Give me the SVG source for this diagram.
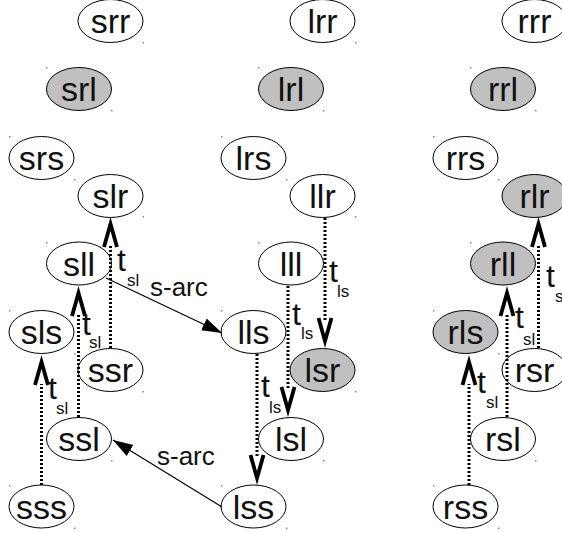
<svg xmlns="http://www.w3.org/2000/svg" xmlns:xlink="http://www.w3.org/1999/xlink" width="562" height="533" viewBox="0 0 562 533">
  <style>
    .node ellipse { fill: #ffffff; stroke: #000000; stroke-width: 1; }
    .node.shaded ellipse { fill: #c0c0c0; }
    .node text { font-family: "Liberation Sans", Arial, sans-serif; font-size: 34px; text-anchor: middle; fill: #111111; }
    .corner { fill: #8a8a8a; }
    .dotted { stroke: #000000; stroke-width: 3; stroke-dasharray: 2 2; fill: none; }
    .head { stroke: #000000; stroke-width: 3.8; fill: none; stroke-linejoin: miter; stroke-miterlimit: 10; }
    .arc { stroke: #000000; stroke-width: 1.2; fill: none; marker-end: url(#tri); }
    .lbl { font-family: "Liberation Sans", Arial, sans-serif; fill: #111111; }
    .t { font-size: 32px; }
    .sub { font-size: 17px; }
    .arclbl { font-size: 26px; }
  </style>
  <defs>
    <marker id="tri" markerUnits="userSpaceOnUse" markerWidth="22" markerHeight="14" refX="20" refY="6.5" orient="auto">
      <path d="M0,0 L20,6.5 L0,13 Z" fill="#000000"/>
    </marker>
    <!-- open chevron heads; the miter tip sits about 7px beyond the path vertex -->
    <path id="up" d="M-6.5,23 L0,0 L6.5,23"/>
    <path id="down" d="M-6.5,-23 L0,0 L6.5,-23"/>
  </defs>

  <!-- states: first letter = column, second letter = row block, third letter = offset -->
  <g id="nodes">
    <g id="srr" class="node"><ellipse cx="110.5" cy="21" rx="32.5" ry="21.5"/><text x="110.5" y="33">srr</text><rect class="corner" x="142.5" y="42" width="1.5" height="1.5"/></g>
    <g id="srl" class="node shaded"><ellipse cx="79" cy="89" rx="32.5" ry="21.5"/><text x="79" y="101">srl</text><rect class="corner" x="46" y="67" width="1.5" height="1.5"/><rect class="corner" x="111" y="110" width="1.5" height="1.5"/></g>
    <g id="srs" class="node"><ellipse cx="41.5" cy="158" rx="32.5" ry="21.5"/><text x="41.5" y="170">srs</text><rect class="corner" x="9" y="136" width="1.5" height="1.5"/><rect class="corner" x="74" y="179" width="1.5" height="1.5"/></g>
    <g id="slr" class="node"><ellipse cx="110.5" cy="196" rx="32.5" ry="21.5"/><text x="110.5" y="208">slr</text><rect class="corner" x="142.5" y="216" width="1.5" height="1.5"/></g>
    <g id="sll" class="node"><ellipse cx="79" cy="263.5" rx="32.5" ry="21.5"/><text x="79" y="275.5">sll</text><rect class="corner" x="46" y="242" width="1.5" height="1.5"/><rect class="corner" x="111" y="284.5" width="1.5" height="1.5"/></g>
    <g id="sls" class="node"><ellipse cx="41.5" cy="332" rx="32.5" ry="21.5"/><text x="41.5" y="344">sls</text><rect class="corner" x="9" y="310" width="1.5" height="1.5"/><rect class="corner" x="74" y="353" width="1.5" height="1.5"/></g>
    <g id="ssr" class="node"><ellipse cx="110.5" cy="370" rx="32.5" ry="21.5"/><text x="110.5" y="382">ssr</text><rect class="corner" x="142.5" y="391" width="1.5" height="1.5"/></g>
    <g id="ssl" class="node"><ellipse cx="79" cy="439" rx="32.5" ry="21.5"/><text x="79" y="451">ssl</text><rect class="corner" x="111" y="460" width="1.5" height="1.5"/></g>
    <g id="sss" class="node"><ellipse cx="41.5" cy="506.5" rx="32.5" ry="21.5"/><text x="41.5" y="518.5">sss</text><rect class="corner" x="9" y="485" width="1.5" height="1.5"/><rect class="corner" x="74" y="527.5" width="1.5" height="1.5"/></g>

    <g id="lrr" class="node"><ellipse cx="322.5" cy="21" rx="32.5" ry="21.5"/><text x="322.5" y="33">lrr</text><rect class="corner" x="355" y="42" width="1.5" height="1.5"/></g>
    <g id="lrl" class="node shaded"><ellipse cx="291" cy="89" rx="32.5" ry="21.5"/><text x="291" y="101">lrl</text><rect class="corner" x="258" y="67" width="1.5" height="1.5"/><rect class="corner" x="323" y="110" width="1.5" height="1.5"/></g>
    <g id="lrs" class="node"><ellipse cx="253.5" cy="158" rx="32.5" ry="21.5"/><text x="253.5" y="170">lrs</text><rect class="corner" x="221" y="136" width="1.5" height="1.5"/><rect class="corner" x="286" y="179" width="1.5" height="1.5"/></g>
    <g id="llr" class="node"><ellipse cx="322.5" cy="196" rx="32.5" ry="21.5"/><text x="322.5" y="208">llr</text><rect class="corner" x="355" y="216" width="1.5" height="1.5"/></g>
    <g id="lll" class="node"><ellipse cx="291" cy="263.5" rx="32.5" ry="21.5"/><text x="291" y="275.5">lll</text><rect class="corner" x="258" y="242" width="1.5" height="1.5"/></g>
    <g id="lls" class="node"><ellipse cx="253.5" cy="332" rx="32.5" ry="21.5"/><text x="253.5" y="344">lls</text><rect class="corner" x="221" y="310" width="1.5" height="1.5"/><rect class="corner" x="286" y="353" width="1.5" height="1.5"/></g>
    <g id="lsr" class="node shaded"><ellipse cx="322.5" cy="370" rx="32.5" ry="21.5"/><text x="322.5" y="382">lsr</text><rect class="corner" x="355" y="391" width="1.5" height="1.5"/></g>
    <g id="lsl" class="node"><ellipse cx="291" cy="439" rx="32.5" ry="21.5"/><text x="291" y="451">lsl</text><rect class="corner" x="323" y="460" width="1.5" height="1.5"/></g>
    <g id="lss" class="node"><ellipse cx="253.5" cy="506.5" rx="32.5" ry="21.5"/><text x="253.5" y="518.5">lss</text><rect class="corner" x="221" y="485" width="1.5" height="1.5"/><rect class="corner" x="286" y="527.5" width="1.5" height="1.5"/></g>

    <g id="rrr" class="node"><ellipse cx="534.5" cy="21" rx="32.5" ry="21.5"/><text x="534.5" y="33">rrr</text></g>
    <g id="rrl" class="node shaded"><ellipse cx="503" cy="89" rx="32.5" ry="21.5"/><text x="503" y="101">rrl</text><rect class="corner" x="470" y="67" width="1.5" height="1.5"/><rect class="corner" x="535" y="110" width="1.5" height="1.5"/></g>
    <g id="rrs" class="node"><ellipse cx="465.5" cy="158" rx="32.5" ry="21.5"/><text x="465.5" y="170">rrs</text><rect class="corner" x="433" y="136" width="1.5" height="1.5"/><rect class="corner" x="498" y="179" width="1.5" height="1.5"/></g>
    <g id="rlr" class="node shaded"><ellipse cx="534.5" cy="196" rx="32.5" ry="21.5"/><text x="534.5" y="208">rlr</text></g>
    <g id="rll" class="node shaded"><ellipse cx="503" cy="263.5" rx="32.5" ry="21.5"/><text x="503" y="275.5">rll</text><rect class="corner" x="470" y="242" width="1.5" height="1.5"/></g>
    <g id="rls" class="node shaded"><ellipse cx="465.5" cy="332" rx="32.5" ry="21.5"/><text x="465.5" y="344">rls</text><rect class="corner" x="433" y="310" width="1.5" height="1.5"/><rect class="corner" x="498" y="353" width="1.5" height="1.5"/></g>
    <g id="rsr" class="node"><ellipse cx="534.5" cy="370" rx="32.5" ry="21.5"/><text x="534.5" y="382">rsr</text></g>
    <g id="rsl" class="node"><ellipse cx="503" cy="439" rx="32.5" ry="21.5"/><text x="503" y="451">rsl</text><rect class="corner" x="535" y="460" width="1.5" height="1.5"/></g>
    <g id="rss" class="node"><ellipse cx="465.5" cy="506.5" rx="32.5" ry="21.5"/><text x="465.5" y="518.5">rss</text><rect class="corner" x="433" y="485" width="1.5" height="1.5"/><rect class="corner" x="498" y="527.5" width="1.5" height="1.5"/></g>
  </g>

  <g id="connectors">
    <!-- t_sl transitions (upward) -->
    <g id="e-ssr-slr"><path class="dotted" d="M110.5,348 V246"/><use xlink:href="#up" href="#up" class="head" x="110.5" y="224"/>
      <text class="lbl t" x="117" y="271">t</text><text class="lbl sub" x="127" y="286">sl</text></g>
    <g id="e-ssl-sll"><path class="dotted" d="M78.5,417 V315"/><use xlink:href="#up" href="#up" class="head" x="78.5" y="293"/>
      <text class="lbl t" x="82" y="335">t</text><text class="lbl sub" x="89" y="348">sl</text></g>
    <g id="e-sss-sls"><path class="dotted" d="M41.5,485 V384"/><use xlink:href="#up" href="#up" class="head" x="41.5" y="362"/>
      <text class="lbl t" x="48" y="399">t</text><text class="lbl sub" x="56" y="414">sl</text></g>
    <g id="e-rsr-rlr"><path class="dotted" d="M538.5,348 V246"/><use xlink:href="#up" href="#up" class="head" x="538.5" y="224"/>
      <text class="lbl t" x="546" y="287">t</text><text class="lbl sub" x="555" y="302">sl</text></g>
    <g id="e-rsl-rll"><path class="dotted" d="M507,417 V315"/><use xlink:href="#up" href="#up" class="head" x="507" y="293"/>
      <text class="lbl t" x="515" y="328">t</text><text class="lbl sub" x="523" y="345">sl</text></g>
    <g id="e-rss-rls"><path class="dotted" d="M469,485 V384"/><use xlink:href="#up" href="#up" class="head" x="469" y="362"/>
      <text class="lbl t" x="477" y="393">t</text><text class="lbl sub" x="486" y="408">sl</text></g>

    <!-- t_ls transitions (downward) -->
    <g id="e-llr-lsr"><path class="dotted" d="M325,218 V320"/><use xlink:href="#down" href="#down" class="head" x="325" y="341"/>
      <text class="lbl t" x="329" y="282">t</text><text class="lbl sub" x="337" y="297">ls</text></g>
    <g id="e-lll-lsl"><path class="dotted" d="M288,286 V388"/><use xlink:href="#down" href="#down" class="head" x="288" y="410"/>
      <text class="lbl t" x="292" y="325">t</text><text class="lbl sub" x="301" y="339">ls</text></g>
    <g id="e-lls-lss"><path class="dotted" d="M257,354 V456"/><use xlink:href="#down" href="#down" class="head" x="257" y="478"/>
      <text class="lbl t" x="261" y="397">t</text><text class="lbl sub" x="269" y="413">ls</text></g>

    <!-- s-arcs -->
    <g id="e-sll-lls"><path class="arc" d="M106,278 L222,333"/>
      <text class="lbl arclbl" x="150" y="296">s-arc</text></g>
    <g id="e-lss-ssl"><path class="arc" d="M222,507 L113,440"/>
      <text class="lbl arclbl" x="157" y="465">s-arc</text></g>
  </g>
</svg>
